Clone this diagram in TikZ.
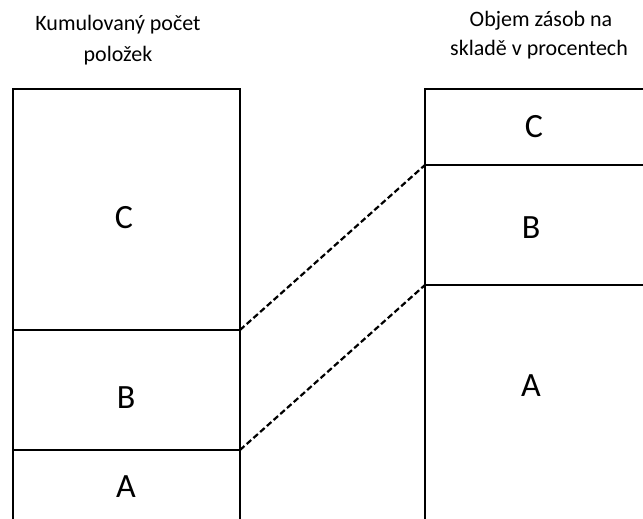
\documentclass[tikz,border=0pt]{standalone}
\usepackage{fontspec}
\setmainfont{Carlito}
\begin{document}
\begin{tikzpicture}[x=1pt,y=-1pt,
  seg/.style={draw=black, line width=2.2pt, inner sep=0pt, outer sep=0pt, anchor=north west},
  lett/.style={font=\fontsize{34}{40}\selectfont},
  ttl/.style={font=\fontsize{22}{26}\selectfont, align=center},
  link/.style={draw=black, line width=2.2pt, dash pattern=on 6pt off 3pt}]
\useasboundingbox (0,0) rectangle (643,519);
\clip (0,0) rectangle (643,519);
% left column
\node[seg, minimum width=227pt, minimum height=241pt] (LC) at (13,89) {};
\node[seg, minimum width=227pt, minimum height=120pt] (LB) at (13,330) {};
\node[seg, minimum width=227pt, minimum height=100pt] (LA) at (13,450) {};
% right column
\node[seg, minimum width=240pt, minimum height=76pt] (RC) at (425,89) {};
\node[seg, minimum width=240pt, minimum height=120pt] (RB) at (425,165) {};
\node[seg, minimum width=240pt, minimum height=260pt] (RA) at (425,285) {};
% letters
\node[lett] (tLC) at (124,218) {C};
\node[lett] (tLB) at (126,398) {B};
\node[lett] (tLA) at (126,487) {A};
\node[lett] (tRC) at (534,127) {C};
\node[lett] (tRB) at (531,228) {B};
\node[lett] (tRA) at (531,386) {A};
% titles
\node[ttl] (T1a) at (118,25) {Kumulovaný počet};
\node[ttl] (T1b) at (118,56) {položek};
\node[ttl] (T2a) at (541,21) {Objem zásob na};
\node[ttl] (T2b) at (539,50) {skladě v procentech};
% connectors
\draw[link] (LC.south east) -- (RC.south west);
\draw[link] (LB.south east) -- (RB.south west);
\end{tikzpicture}
\end{document}
